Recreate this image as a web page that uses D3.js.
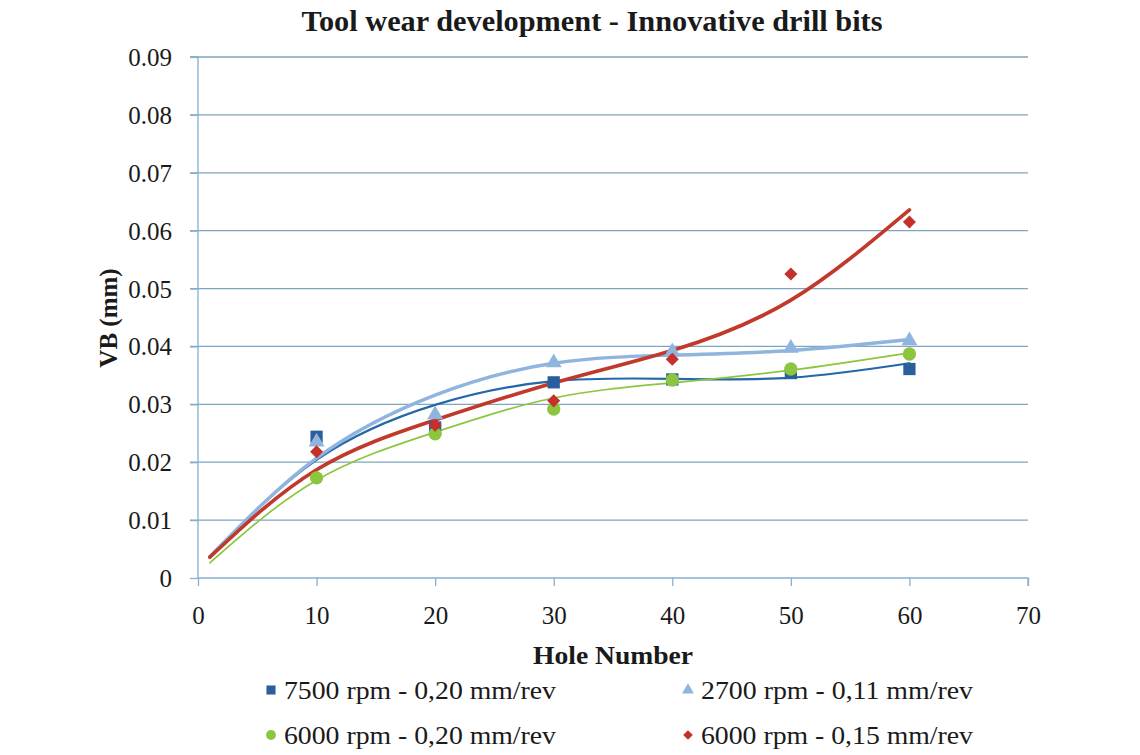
<!DOCTYPE html>
<html>
<head>
<meta charset="utf-8">
<script src="https://cdn.jsdelivr.net/npm/d3@7"></script>
<style>
  html, body { margin: 0; padding: 0; background: #ffffff; }
  svg { display: block; }
  text { font-family: "Liberation Serif", "DejaVu Serif", serif; fill: #1a1a1a; }
</style>
</head>
<body>
<svg id="chart" width="1140" height="755"></svg>
<script>
// ---- Data ----
const titleText = "Tool wear development - Innovative drill bits";
const xLabel = "Hole Number";
const yLabel = "VB (mm)";
const xTicks = [0, 10, 20, 30, 40, 50, 60, 70];
const yTicks = [0, 0.01, 0.02, 0.03, 0.04, 0.05, 0.06, 0.07, 0.08, 0.09];
const yTickLabels = ["0", "0.01", "0.02", "0.03", "0.04", "0.05", "0.06", "0.07", "0.08", "0.09"];

const holes = [10, 20, 30, 40, 50, 60];
const seriesNames = ["7500 rpm - 0,20 mm/rev", "2700 rpm - 0,11 mm/rev", "6000 rpm - 0,20 mm/rev", "6000 rpm - 0,15 mm/rev"];
const vb7500_020 = [0.0244, 0.0260, 0.0338, 0.0343, 0.0354, 0.0361];
const vb2700_011 = [0.0235, 0.0282, 0.0372, 0.0391, 0.0397, 0.0410];
const vb6000_020 = [0.0173, 0.0249, 0.0292, 0.0342, 0.0361, 0.0387];
const vb6000_015 = [0.0218, 0.0264, 0.0306, 0.0378, 0.0525, 0.0615];

// Trendline values at these hole numbers
const trendX = [1, 10, 20, 30, 40, 50, 60];
const trend7500_020 = [0.0037, 0.0204, 0.0299, 0.0340, 0.0344, 0.0346, 0.0371];
const trend2700_011 = [0.0037, 0.0207, 0.0316, 0.0371, 0.0385, 0.0393, 0.0412];
const trend6000_020 = [0.0026, 0.0169, 0.0252, 0.0311, 0.0337, 0.0359, 0.0389];
const trend6000_015 = [0.0036, 0.0187, 0.0273, 0.0337, 0.0393, 0.0480, 0.0636];

// ---- Layout ----
const svg = d3.select("#chart");
const mLeft = 198, mRight = 1028, mTop = 57, mBottom = 578;
const x = d3.scaleLinear().domain([0, 70]).range([mLeft, mRight]);
const y = d3.scaleLinear().domain([0, 0.09]).range([mBottom, mTop]);

const gridColor = "#7ea6c0";
const axisColor = "#86b0cc";

// Gridlines
svg.append("g").selectAll("line").data(yTicks.filter(d => d > 0)).join("line")
  .attr("x1", mLeft - 8).attr("x2", mRight)
  .attr("y1", d => y(d)).attr("y2", d => y(d))
  .attr("stroke", gridColor).attr("stroke-width", 1.3);

// Y axis
const yAxis = d3.axisLeft(y).tickValues(yTicks).tickSize(8).tickPadding(18)
  .tickFormat((d, i) => yTickLabels[i]);
const gy = svg.append("g").attr("transform", `translate(${mLeft},0)`).call(yAxis);
gy.select(".domain").attr("stroke", axisColor).attr("stroke-width", 1.3).attr("d", `M-8,${mTop}H0V${mBottom}`);
gy.selectAll(".tick line").attr("stroke", axisColor).attr("stroke-width", 1.3);
gy.selectAll(".tick text").attr("font-size", 25).attr("font-family", "Liberation Serif").attr("fill", "#1a1a1a").attr("dy", "0.34em");

// X axis
const xAxis = d3.axisBottom(x).tickValues(xTicks).tickSize(8).tickPadding(20).tickFormat(d3.format("d"));
const gx = svg.append("g").attr("transform", `translate(0,${mBottom})`).call(xAxis);
gx.select(".domain").attr("stroke", axisColor).attr("stroke-width", 1.3).attr("d", `M${mLeft},0H${mRight}V8`);
gx.selectAll(".tick line").attr("stroke", axisColor).attr("stroke-width", 1.3);
gx.selectAll(".tick text").attr("font-size", 25).attr("font-family", "Liberation Serif").attr("fill", "#1a1a1a");

// Title & axis labels
svg.append("text").attr("x", 592).attr("y", 31).attr("text-anchor", "middle")
  .attr("font-size", 29).attr("font-weight", "bold")
  .attr("textLength", 581).attr("lengthAdjust", "spacingAndGlyphs").text(titleText);
svg.append("text").attr("x", 613).attr("y", 664).attr("text-anchor", "middle")
  .attr("font-size", 26).attr("font-weight", "bold")
  .attr("textLength", 160).attr("lengthAdjust", "spacingAndGlyphs").text(xLabel);
svg.append("text").attr("transform", `translate(117,318) rotate(-90)`).attr("text-anchor", "middle")
  .attr("font-size", 25).attr("font-weight", "bold").text(yLabel);

// Series definitions
const series = [
  { name: seriesNames[0], vals: vb7500_020, trend: trend7500_020, color: "#2a5f9e", line: "#2468a8", lw: 2.2, sym: d3.symbolSquare, size: 150, rot: 0 },
  { name: seriesNames[1], vals: vb2700_011, trend: trend2700_011, color: "#8fb4de", line: "#8fb4de", lw: 3.4, sym: d3.symbolTriangle, size: 110, rot: 0 },
  { name: seriesNames[2], vals: vb6000_020, trend: trend6000_020, color: "#8cc63f", line: "#8cc63f", lw: 1.7, sym: d3.symbolCircle, size: 140, rot: 0 },
  { name: seriesNames[3], vals: vb6000_015, trend: trend6000_015, color: "#c4312a", line: "#c0392b", lw: 3.6, sym: d3.symbolSquare, size: 85, rot: 45 }
];

// Trendlines
const lineGen = d3.line().x(d => x(d[0])).y(d => y(d[1])).curve(d3.curveNatural);
series.forEach(s => {
  svg.append("path").datum(trendX.map((h, k) => [h, s.trend[k]]))
    .attr("d", lineGen).attr("fill", "none")
    .attr("stroke", s.line).attr("stroke-width", s.lw).attr("stroke-linecap", "round");
});

// Markers
series.forEach(s => {
  svg.append("g").selectAll("path").data(holes.map((h, k) => [h, s.vals[k]])).join("path")
    .attr("d", d3.symbol().type(s.sym).size(s.size))
    .attr("transform", d => `translate(${x(d[0])},${y(d[1])}) rotate(${s.rot})`)
    .attr("fill", s.color);
});

// Legend
const legendPos = [[271, 690], [688, 690], [271, 735], [688, 735]];
series.forEach((s, i) => {
  const [lx, ly] = legendPos[i];
  svg.append("path").attr("d", d3.symbol().type(s.sym).size(s.size * 0.55))
    .attr("transform", `translate(${lx},${ly}) rotate(${s.rot})`).attr("fill", s.color);
  svg.append("text").attr("x", lx + 13).attr("y", ly + 9).attr("font-size", 26)
    .attr("textLength", 272).attr("lengthAdjust", "spacingAndGlyphs").text(s.name);
});
</script>
</body>
</html>
